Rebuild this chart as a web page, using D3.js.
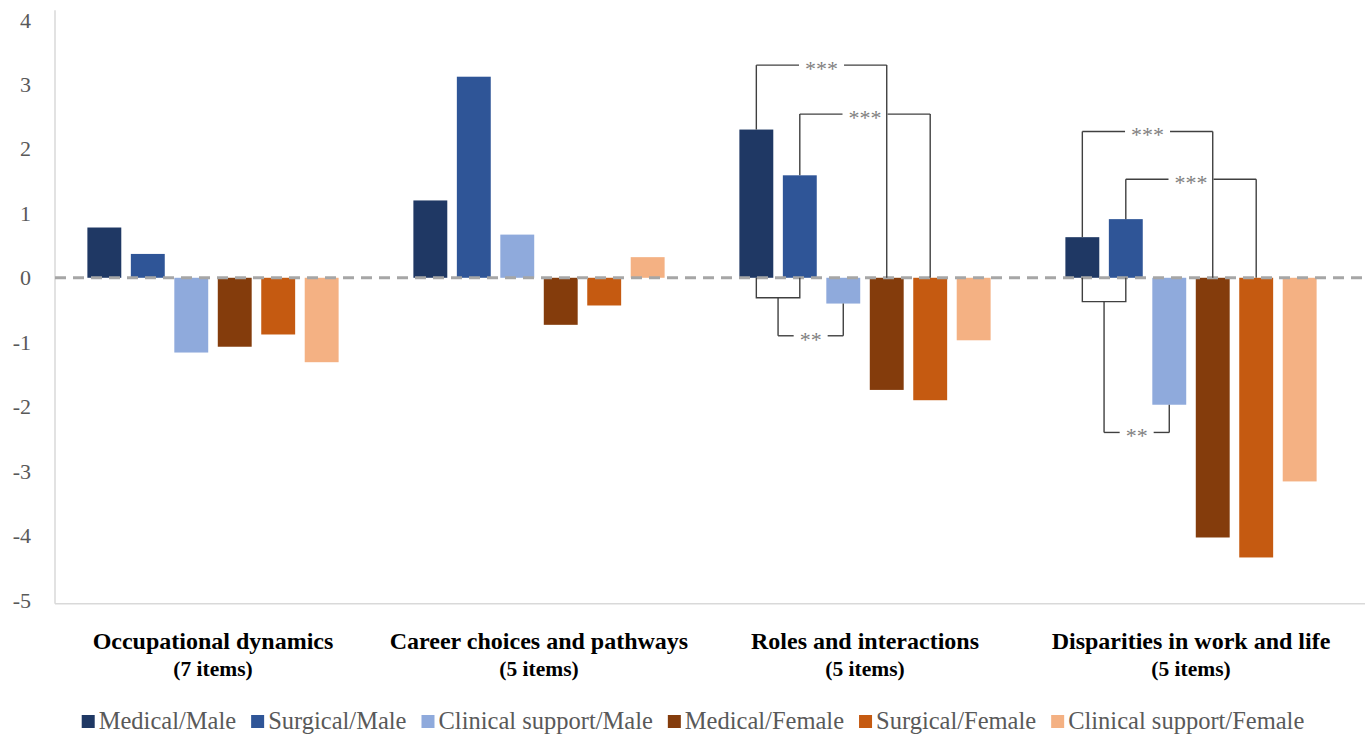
<!DOCTYPE html>
<html>
<head>
<meta charset="utf-8">
<script src="https://cdn.jsdelivr.net/npm/d3@7"></script>
<style>
body { margin: 0; background: #fff; }
</style>
</head>
<body>
<svg id="chart" width="1368" height="736"></svg>
<script>
const categories = ["Occupational dynamics", "Career choices and pathways", "Roles and interactions", "Disparities in work and life"]
const itemCounts = ["(7 items)", "(5 items)", "(5 items)", "(5 items)"]
const seriesNames = ["Medical/Male", "Surgical/Male", "Clinical support/Male", "Medical/Female", "Surgical/Female", "Clinical support/Female"]
const seriesColors = ["#1f3864", "#2f5597", "#8faadc", "#843c0c", "#c55a11", "#f4b183"]

const medicalMale = [0.78, 1.2, 2.3, 0.63]
const surgicalMale = [0.37, 3.12, 1.59, 0.91]
const clinicalMale = [-1.16, 0.67, -0.4, -1.97]
const medicalFemale = [-1.07, -0.73, -1.74, -4.03]
const surgicalFemale = [-0.88, -0.43, -1.9, -4.34]
const clinicalFemale = [-1.31, 0.32, -0.97, -3.16]

const yTicks = [4, 3, 2, 1, 0, -1, -2, -3, -4, -5]

// significance brackets: group index, series a -> series b, bracket height
const topBrackets = [
    {group: 2, a: 0, b: 3, level: 3.3, label: "***"},
    {group: 2, a: 1, b: 4, level: 2.54, label: "***"},
    {group: 3, a: 0, b: 3, level: 2.27, label: "***"},
    {group: 3, a: 1, b: 4, level: 1.53, label: "***"}
]
// male medical+surgical vs clinical support male
const lowBrackets = [
    {group: 2, level1: -0.31, level2: -0.9, target: 2, label: "**"},
    {group: 3, level1: -0.37, level2: -2.4, target: 2, label: "**"}
]

const allSeries = [medicalMale, surgicalMale, clinicalMale, medicalFemale, surgicalFemale, clinicalFemale]

let svg = d3.select("#chart")
const serif = "'Liberation Serif', 'Times New Roman', serif"

let y = d3.scaleLinear().domain([-5, 4]).range([600, 20])
let x0 = d3.scaleBand().domain(d3.range(categories.length)).range([50, 1354])
let x1 = d3.scaleBand().domain(d3.range(seriesNames.length)).range([0, x0.bandwidth()])
    .paddingInner(0.22).paddingOuter(0.86)

let cx = (g, s) => x0(g) + x1(s) + x1.bandwidth() / 2

// axis lines
svg.append("line")
    .attr("x1", 55).attr("x2", 55)
    .attr("y1", y(4.15)).attr("y2", y(-5.06))
    .attr("stroke", "#d9d9d9").attr("stroke-width", 1.5)

svg.append("line")
    .attr("x1", 55).attr("x2", 1365)
    .attr("y1", y(-5.06)).attr("y2", y(-5.06))
    .attr("stroke", "#d9d9d9").attr("stroke-width", 1.5)

// y tick labels
let yAxis = svg.append("g")
    .attr("transform", "translate(31,0)")
    .call(d3.axisLeft(y).tickValues(yTicks).tickSize(0).tickPadding(0).tickFormat(d => String(d)))
yAxis.select(".domain").remove()
yAxis.selectAll("text")
    .attr("font-family", serif)
    .attr("font-size", "22px")
    .attr("fill", "#595959")

// bars
let groups = svg.selectAll(".grp")
    .data(categories)
    .enter()
    .append("g")
    .attr("class", "grp")
    .attr("transform", (d, i) => "translate(" + x0(i) + ",0)")

groups.selectAll("rect")
    .data((d, i) => allSeries.map((s, j) => ({s: j, v: s[i]})))
    .enter()
    .append("rect")
    .attr("x", d => x1(d.s))
    .attr("width", x1.bandwidth())
    .attr("y", d => y(Math.max(0, d.v)))
    .attr("height", d => Math.abs(y(d.v) - y(0)))
    .attr("fill", d => seriesColors[d.s])

// zero line
svg.append("line")
    .attr("x1", 55).attr("x2", 1365)
    .attr("y1", y(0)).attr("y2", y(0))
    .attr("stroke", "#a6a6a6")
    .attr("stroke-width", 3)
    .attr("stroke-dasharray", "11,7")

// brackets
let br = svg.append("g")
    .attr("fill", "none")
    .attr("stroke", "#404040")
    .attr("stroke-width", 1.4)

const hLineWithGap = (xa, xb, yy, label) => {
    let mid = (xa + xb) / 2
    let t = svg.append("text")
        .attr("x", mid)
        .attr("y", yy + 11)
        .attr("text-anchor", "middle")
        .attr("font-family", serif)
        .attr("font-size", "22px")
        .attr("fill", "#7f7f7f")
        .text(label)
    let half = t.node().getComputedTextLength() / 2 + 6
    br.append("path").attr("d", "M" + xa + "," + yy + "H" + (mid - half))
    br.append("path").attr("d", "M" + (mid + half) + "," + yy + "H" + xb)
}

topBrackets.forEach(b => {
    let xa = cx(b.group, b.a)
    let xb = cx(b.group, b.b)
    let ya = y(Math.max(0, allSeries[b.a][b.group]))
    let yb = y(Math.max(0, allSeries[b.b][b.group]))
    let yl = y(b.level)
    br.append("path").attr("d", "M" + xa + "," + ya + "V" + yl)
    br.append("path").attr("d", "M" + xb + "," + yb + "V" + yl)
    hLineWithGap(xa, xb, yl, b.label)
})

lowBrackets.forEach(b => {
    let xa = cx(b.group, 0)
    let xb = cx(b.group, 1)
    let y1 = y(b.level1)
    let y2 = y(b.level2)
    br.append("path").attr("d", "M" + xa + "," + y(0) + "V" + y1 + "H" + xb + "V" + y(0))
    let xm = (xa + xb) / 2
    let xt = cx(b.group, b.target)
    let yt = y(Math.min(0, allSeries[b.target][b.group]))
    br.append("path").attr("d", "M" + xm + "," + y1 + "V" + y2)
    br.append("path").attr("d", "M" + xt + "," + yt + "V" + y2)
    hLineWithGap(xm, xt, y2, b.label)
})

// category labels
categories.forEach((c, i) => {
    let xc = x0(i) + x0.bandwidth() / 2
    svg.append("text")
        .attr("x", xc).attr("y", 649)
        .attr("text-anchor", "middle")
        .attr("font-family", serif)
        .attr("font-weight", "bold")
        .attr("font-size", "24px")
        .attr("fill", "#000")
        .text(c)
    svg.append("text")
        .attr("x", xc).attr("y", 676)
        .attr("text-anchor", "middle")
        .attr("font-family", serif)
        .attr("font-weight", "bold")
        .attr("font-size", "21.5px")
        .attr("fill", "#000")
        .text(itemCounts[i])
})

// legend
let legend = svg.append("g")
let lx = 0
seriesNames.forEach((n, i) => {
    legend.append("rect")
        .attr("x", lx).attr("y", -14)
        .attr("width", 13).attr("height", 13)
        .attr("fill", seriesColors[i])
    let t = legend.append("text")
        .attr("x", lx + 17).attr("y", 0)
        .attr("font-family", serif)
        .attr("font-size", "24.5px")
        .attr("fill", "#595959")
        .text(n)
    lx += 17 + t.node().getComputedTextLength() + 15
})
legend.attr("transform", "translate(" + (693 - (lx - 15) / 2) + ",729)")
</script>
</body>
</html>
